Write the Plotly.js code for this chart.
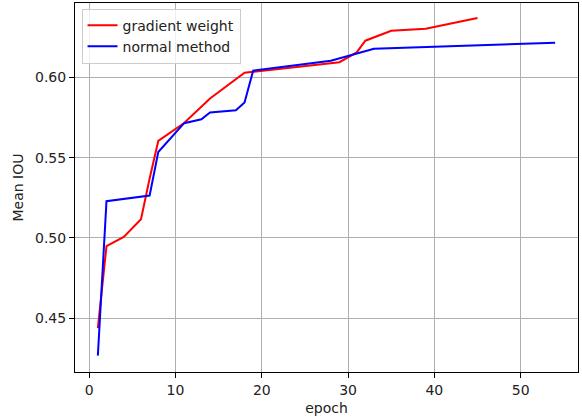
<!DOCTYPE html>
<html>
<head>
<meta charset="utf-8">
<script src="https://cdn.plot.ly/plotly-3.0.1.min.js"></script>
<style>html,body{margin:0;padding:0;background:#fff;}#chart{width:582px;height:419px;}</style>
</head>
<body>
<div id="chart"></div>
<script>
const gradEpochs = [1, 2, 4, 6, 7, 8, 11, 14, 18, 19, 29, 31, 32, 35, 39, 45];
const gradIOU = [0.4437, 0.4948, 0.5006, 0.5116, 0.537, 0.5604, 0.5716, 0.5869, 0.6030, 0.6035, 0.6095, 0.6156, 0.6229, 0.6291, 0.6304, 0.6371];
const normEpochs = [1, 2, 7, 8, 11, 13, 14, 17, 18, 19, 28, 33, 54];
const normIOU = [0.4266, 0.5229, 0.5264, 0.5535, 0.5715, 0.5739, 0.5781, 0.5796, 0.5844, 0.6042, 0.6104, 0.6179, 0.6216];
const xTicks = [0, 10, 20, 30, 40, 50];
const yTicks = [0.45, 0.50, 0.55, 0.60];
const yTickText = ['0.45', '0.50', '0.55', '0.60'];

const font = {family: 'DejaVu Sans', size: 14, color: '#222'};
const traces = [
  {x: gradEpochs, y: gradIOU, type: 'scatter', mode: 'lines', name: 'gradient weight', line: {color: '#ff0000', width: 2}},
  {x: normEpochs, y: normIOU, type: 'scatter', mode: 'lines', name: 'normal method', line: {color: '#0000ff', width: 2}}
];
const axisCommon = {
  showline: true, mirror: true, linecolor: '#000', linewidth: 1,
  ticks: 'outside', ticklen: 5, tickcolor: '#000', tickwidth: 1,
  showgrid: true, gridcolor: '#b0b0b0', gridwidth: 1, zeroline: false,
  tickfont: font
};
const layout = {
  width: 582, height: 419,
  margin: {l: 75, r: 4, t: 3, b: 47},
  paper_bgcolor: '#fff', plot_bgcolor: '#fff',
  font: font,
  showlegend: true,
  legend: {
    x: 0.013, y: 0.985, xanchor: 'left', yanchor: 'top',
    bgcolor: 'rgba(255,255,255,0.8)', bordercolor: '#cccccc', borderwidth: 1,
    font: font, itemwidth: 30, tracegroupgap: 0
  },
  xaxis: Object.assign({}, axisCommon, {
    range: [-1.65, 56.65], tickvals: xTicks, ticktext: xTicks.map(String),
    title: {text: 'epoch', font: font, standoff: 6}
  }),
  yaxis: Object.assign({}, axisCommon, {
    range: [0.4164, 0.6464], tickvals: yTicks, ticktext: yTickText,
    title: {text: 'Mean IOU', font: font, standoff: 8}
  })
};
Plotly.newPlot('chart', traces, layout, {staticPlot: true, displayModeBar: false});
</script>
</body>
</html>
